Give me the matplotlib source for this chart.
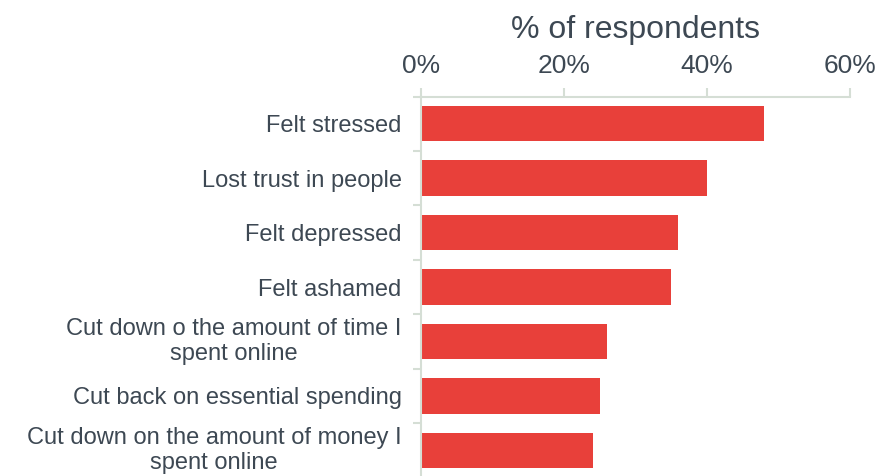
import matplotlib.pyplot as plt
import matplotlib.transforms as mtransforms
import numpy as np

plt.rcParams['font.family'] = ['Liberation Sans', 'DejaVu Sans']

# data (% of respondents)
labels = ['Felt stressed',
          'Lost trust in people',
          'Felt depressed',
          'Felt ashamed',
          'Cut down o the amount of time I\nspent online',
          'Cut back on essential spending',
          'Cut down on the amount of money I\nspent online']
values = [48, 40, 36, 35, 26, 25, 24]
xticks = [0, 20, 40, 60]

red = '#E8403A'
txt = '#3D4853'
line_col = '#D5DED5'

fig = plt.figure(figsize=(8.94, 4.76), dpi=100)
# axes runs a touch below the bottom of the figure, like the cropped original
ax = fig.add_axes([421/894, 1 - 477.5/476, (850-421)/894, (477.5-96.5)/476])

y = np.arange(len(labels))
ax.barh(y, values, height=0.65, color=red, zorder=2)

ax.set_xlim(0, 60)
ax.set_ylim(len(labels) - 0.5, -0.5)

ax.xaxis.set_ticks_position('top')
ax.xaxis.set_label_position('top')
ax.set_xticks(xticks)
ax.set_xticklabels([f'{v}%' for v in xticks])
ax.tick_params(axis='x', which='major', length=6.5, width=1.5, color=line_col,
               labelsize=19, labelcolor=txt, pad=7)
ax.set_xlabel('% of respondents', fontsize=23, color=txt, labelpad=11)

ax.set_yticks(y)
ax.set_yticklabels(labels, ha='right', multialignment='center', linespacing=1.2)
ax.set_yticks(np.arange(len(labels) + 1) - 0.5, minor=True)
ax.tick_params(axis='y', which='major', length=0, labelsize=17, labelcolor=txt, pad=14)
ax.tick_params(axis='y', which='minor', length=6, width=1.5, color=line_col)

# two-line labels sit a little higher, so the bottom one stays inside the picture
up = mtransforms.ScaledTranslation(0, 4/100, fig.dpi_scale_trans)
for lab in ax.get_yticklabels():
    if '\n' in lab.get_text():
        lab.set_transform(lab.get_transform() + up)

for s in ['right', 'bottom']:
    ax.spines[s].set_visible(False)
for s in ['top', 'left']:
    ax.spines[s].set_color(line_col)
    ax.spines[s].set_linewidth(1.5)

fig.savefig('out.png', dpi=100)
